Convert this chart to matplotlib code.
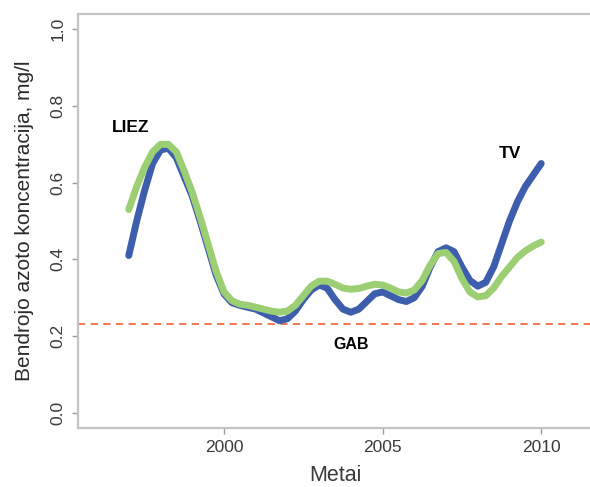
import matplotlib.pyplot as plt
import numpy as np

plt.rcParams['font.family'] = ['Liberation Sans', 'DejaVu Sans']

# years, read every quarter year off the reference
years = np.arange(1997.0, 2010.01, 0.25)

tv = [0.41, 0.50, 0.58, 0.65, 0.685, 0.69, 0.665, 0.615, 0.565, 0.50, 0.43, 0.36,
      0.31, 0.287, 0.28, 0.275, 0.27, 0.26, 0.25, 0.24, 0.245, 0.265, 0.295, 0.32,
      0.333, 0.325, 0.295, 0.27, 0.262, 0.27, 0.29, 0.31, 0.315, 0.305, 0.295, 0.29,
      0.30, 0.33, 0.38, 0.42, 0.43, 0.42, 0.38, 0.345, 0.33, 0.34, 0.38, 0.44,
      0.50, 0.55, 0.59, 0.62, 0.65]

liez = [0.53, 0.59, 0.64, 0.68, 0.70, 0.70, 0.68, 0.63, 0.575, 0.51, 0.44, 0.37,
        0.315, 0.292, 0.283, 0.28, 0.275, 0.27, 0.265, 0.262, 0.265, 0.28, 0.305, 0.33,
        0.343, 0.343, 0.335, 0.325, 0.322, 0.324, 0.33, 0.335, 0.333, 0.325, 0.315, 0.312,
        0.32, 0.345, 0.385, 0.415, 0.418, 0.395, 0.35, 0.315, 0.302, 0.305, 0.325, 0.355,
        0.38, 0.405, 0.422, 0.435, 0.445]

gab = 0.232  # limit value

x_ticks = [2000, 2005, 2010]
y_ticks = [0.0, 0.2, 0.4, 0.6, 0.8, 1.0]

fig = plt.figure(figsize=(5.9, 4.87), dpi=100)
ax = fig.add_axes([78/590, 59/487, (592-78)/590, (428-14)/487])

ax.plot(years, tv, color='#3d5dad', lw=5, solid_capstyle='round', solid_joinstyle='round', zorder=3)
ax.plot(years, liez, color='#9ccf73', lw=5, solid_capstyle='round', solid_joinstyle='round', zorder=4)
ax.axhline(gab, color='#f26b45', lw=1.3, ls=(0, (4, 3)), zorder=2)

ax.text(1997.05, 0.745, 'LIEZ', fontsize=12.5, fontweight='bold', ha='center', va='center')
ax.text(2009.0, 0.677, 'TV', fontsize=12.5, fontweight='bold', ha='center', va='center')
ax.text(2004.0, 0.178, 'GAB', fontsize=11.5, fontweight='bold', ha='center', va='center')

ax.set_xlim(1995.4, 2011.6)
ax.set_ylim(-0.04, 1.04)
ax.set_xticks(x_ticks)
ax.set_yticks(y_ticks)
ax.set_yticklabels([f'{v:.1f}' for v in y_ticks], rotation=90, va='center')

for s in ['left', 'bottom', 'top']:
    ax.spines[s].set_color('#c4c4c4')
    ax.spines[s].set_linewidth(1.6)
ax.spines['right'].set_visible(False)

ax.tick_params(axis='both', colors='#9a9a9a', labelcolor='#3a3a3a', length=4, width=1, labelsize=12.5)
ax.tick_params(axis='y', pad=5)
ax.tick_params(axis='x', pad=5)

ax.set_xlabel('Metai', fontsize=15.5, color='#3a3a3a', labelpad=7)
ax.set_ylabel('Bendrojo azoto koncentracija, mg/l', fontsize=15, color='#2a2a2a', labelpad=12)

fig.savefig('out.png', dpi=100)
